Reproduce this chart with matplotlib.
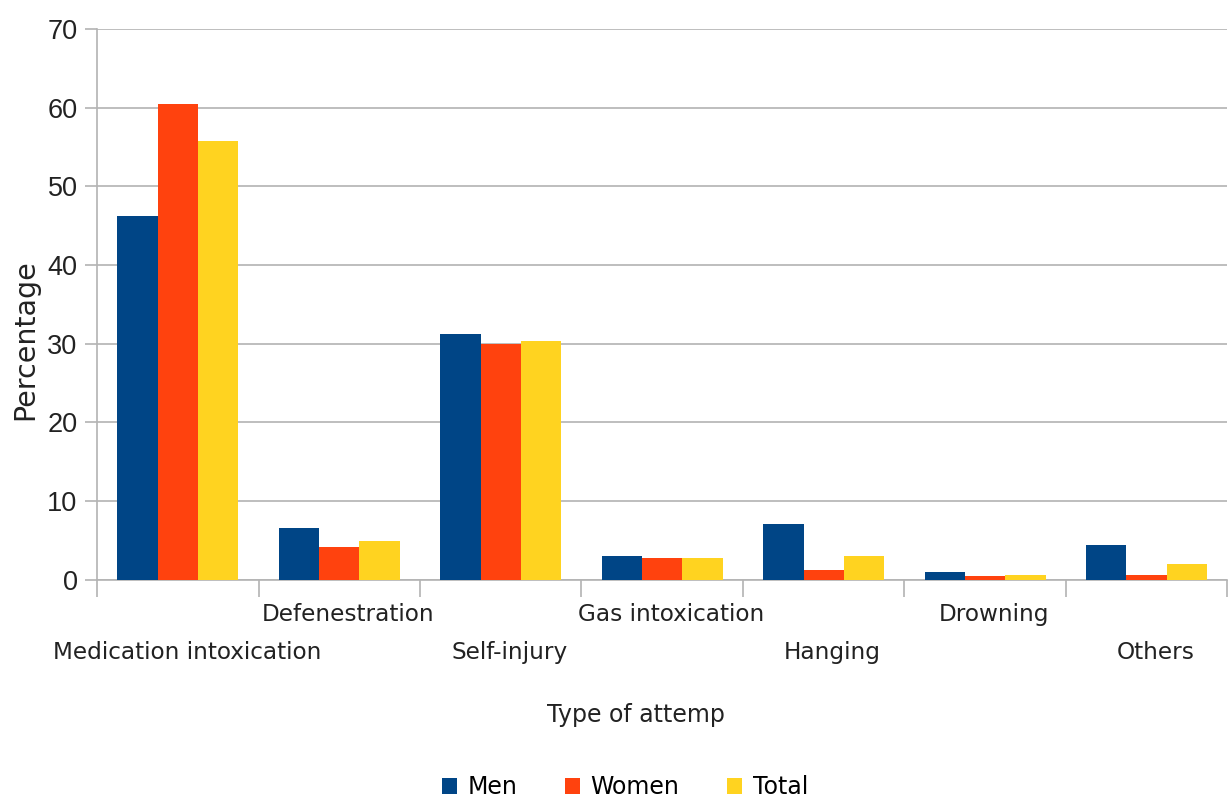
import numpy as np
import matplotlib
matplotlib.use("Agg")
import matplotlib.pyplot as plt
from matplotlib.transforms import ScaledTranslation

# Datos por tipo de intento (%)
categories = ["Medication intoxication", "Defenestration", "Self-injury",
              "Gas intoxication", "Hanging", "Drowning", "Others"]
men = [46.2, 6.5, 31.2, 3.0, 7.1, 0.9, 4.4]
women = [60.4, 4.1, 29.9, 2.8, 1.2, 0.4, 0.6]
total = [55.8, 4.9, 30.3, 2.8, 3.0, 0.6, 2.0]
series_names = ["Men", "Women", "Total"]
colors = ["#004586", "#ff420e", "#ffd320"]
y_ticks = [0, 10, 20, 30, 40, 50, 60, 70]

fig = plt.figure(figsize=(12.3, 8.01), dpi=100)
ax = fig.add_axes([0.0789, 0.2765, 0.919, 0.6873])

x = np.arange(len(categories))
w = 0.25
for i, (vals, name, c) in enumerate(zip([men, women, total], series_names, colors)):
    ax.bar(x + (i - 1) * w, vals, width=w, color=c, label=name, zorder=3)

ax.set_xlim(-0.5, len(categories) - 0.5)
ax.set_ylim(0, 70)

# rejilla y ejes
ax.set_yticks(y_ticks)
ax.yaxis.grid(True, color="#b3b3b3", linewidth=1.2, zorder=0)
for s in ["top", "right"]:
    ax.spines[s].set_visible(False)
for s in ["left", "bottom"]:
    ax.spines[s].set_color("#b3b3b3")
    ax.spines[s].set_linewidth(1.2)
ax.tick_params(axis="y", length=9, width=1.2, color="#b3b3b3", pad=5)
for lab in ax.get_yticklabels():
    lab.set_fontfamily("Liberation Sans")
    lab.set_fontsize(19.5)
    lab.set_color("#222222")

# marcas entre categorias
ax.set_xticks(np.arange(len(categories) + 1) - 0.5, minor=True)
ax.tick_params(axis="x", which="minor", length=12, width=1.2, color="#b3b3b3")
ax.set_xticks(x)
ax.set_xticklabels(categories, fontsize=16.7, color="#222222")
ax.tick_params(axis="x", which="major", length=0)
for i, t in enumerate(ax.xaxis.get_major_ticks()):
    t.set_pad(44 if i % 2 == 0 else 17)
shift = ScaledTranslation(9 / 100, 0, fig.dpi_scale_trans)
for lab in ax.get_xticklabels():
    lab.set_transform(lab.get_transform() + shift)

ax.set_ylabel("Percentage", fontsize=20.5, color="#222222", labelpad=6)
ax.yaxis.label.set_y(0.435)
ax.set_xlabel("Type of attemp", fontsize=17, color="#222222", labelpad=28)
ax.xaxis.label.set_x(0.477)

fig.legend(loc="lower center", bbox_to_anchor=(0.508, -0.024), ncol=3,
           frameon=False, fontsize=17, handlelength=0.65, handleheight=0.65,
           handletextpad=0.45, columnspacing=2.0)

fig.savefig("out.png", dpi=100)
